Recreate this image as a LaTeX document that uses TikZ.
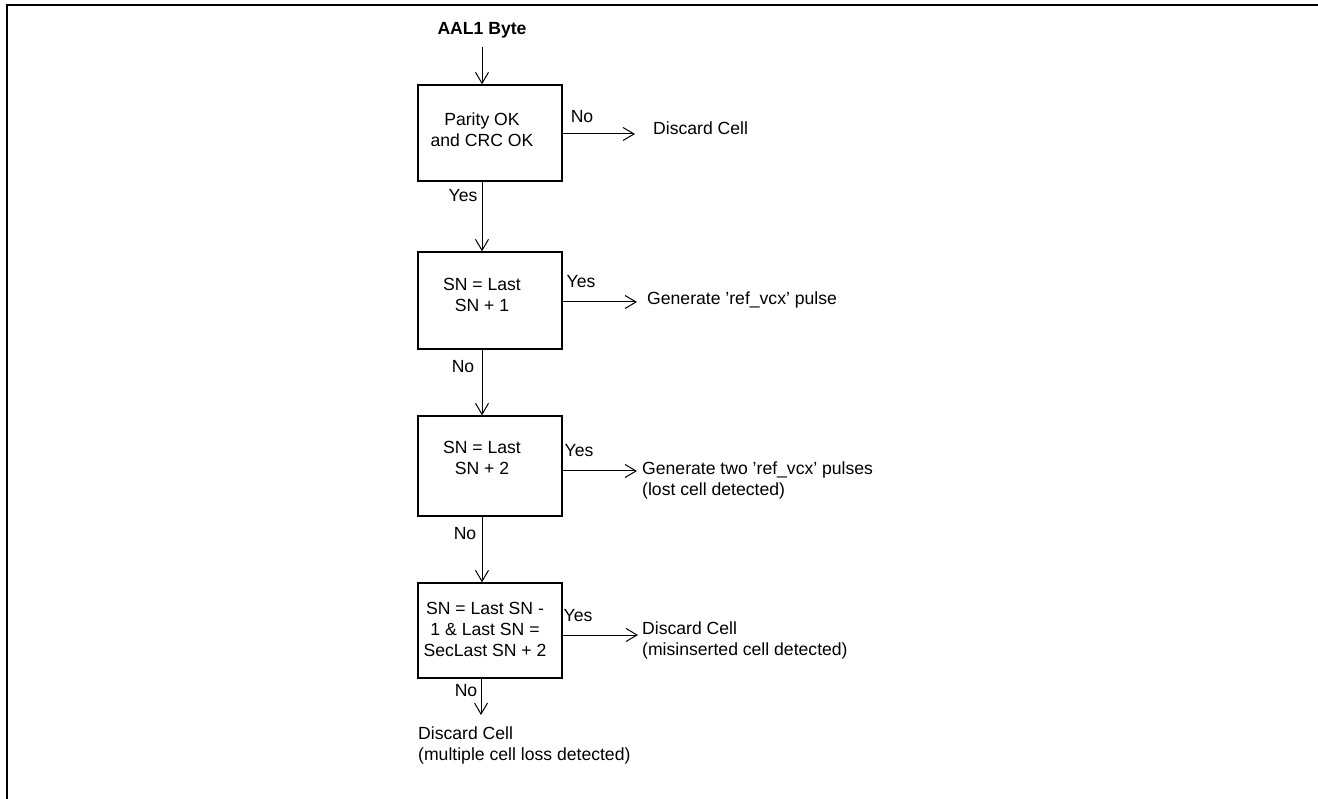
\documentclass[tikz,border=0pt]{standalone}
\usepackage{fontspec}
\setmainfont{Liberation Sans}
\usetikzlibrary{arrows.meta}
\begin{document}
\begin{tikzpicture}[x=1pt,y=-1pt,
  every node/.style={font=\fontsize{17.6}{21}\selectfont, inner sep=0pt},
  box/.style={draw, line width=1.4pt, minimum width=144pt},
  arr/.style={line width=1pt, -{Straight Barb[length=11pt,width=13pt,line width=1pt]}},
  inbox/.style={align=center},
  txt/.style={anchor=west, align=left}]
\useasboundingbox (0,0) rectangle (1318,799);
\draw[line width=2pt] (7,799) -- (7,5) -- (1318,5);

% title
\node[font=\fontsize{17.6}{21}\selectfont\bfseries, anchor=base] (aal) at (482,34.4) {AAL1 Byte};

% boxes
\node[box, minimum height=96pt] (b1) at (490,133) {};
\node[box, minimum height=97pt] (b2) at (490,300.5) {};
\node[box, minimum height=100pt] (b3) at (490,466) {};
\node[box, minimum height=95pt] (b4) at (490,630.5) {};

% box texts
\node[inbox] (t1) at (482,130) {Parity OK\\and CRC OK};
\node[inbox] (t2) at (482,294.5) {SN = Last\\SN + 1};
\node[inbox] (t3) at (482,457.5) {SN = Last\\SN + 2};
\node[inbox] (t4) at (485,629) {SN = Last SN -\\1 \& Last SN =\\SecLast SN + 2};

% right outcomes
\node[anchor=base west] (r1) at (653,134.5) {Discard Cell};
\node[anchor=base west] (r2) at (647,304.5) {Generate 'ref\_vcx' pulse};
\node[txt] (r3) at (642,480.4) {Generate two 'ref\_vcx' pulses\\(lost cell detected)};
\node[txt] (r4) at (642,640.9) {Discard Cell\\(misinserted cell detected)};
\node[txt] (r5) at (418,745) {Discard Cell\\(multiple cell loss detected)};

% arrow end coordinates
\coordinate (e1) at (635,134);
\coordinate (e2) at (637,302);
\coordinate (e3) at (637,471);
\coordinate (e4) at (638,635);
\coordinate (d4) at (481,715);

% vertical connectors
\draw[arr] ([yshift=-9pt]aal.south) -- (b1.north -| aal);
\draw[arr] (b1.south -| t1) -- (b2.north -| t1);
\draw[arr] (b2.south -| t2) -- (b3.north -| t2);
\draw[arr] (b3.south -| t3) -- (b4.north -| t3);
\draw[arr] (b4.south -| d4) -- (d4);

% horizontal connectors
\draw[arr] (b1.east |- e1) -- (e1);
\draw[arr] (b2.east |- e2) -- (e2);
\draw[arr] (b3.east |- e3) -- (e3);
\draw[arr] (b4.east |- e4) -- (e4);

% labels
\node (no1) at (582,117) {No};
\node (yes1) at (463,196) {Yes};
\node (yes2) at (581,282) {Yes};
\node (no2) at (463,367) {No};
\node (yes3) at (579,451) {Yes};
\node (no3) at (465,534) {No};
\node (yes4) at (578,616) {Yes};
\node (no4) at (466,691) {No};
\end{tikzpicture}
\end{document}
